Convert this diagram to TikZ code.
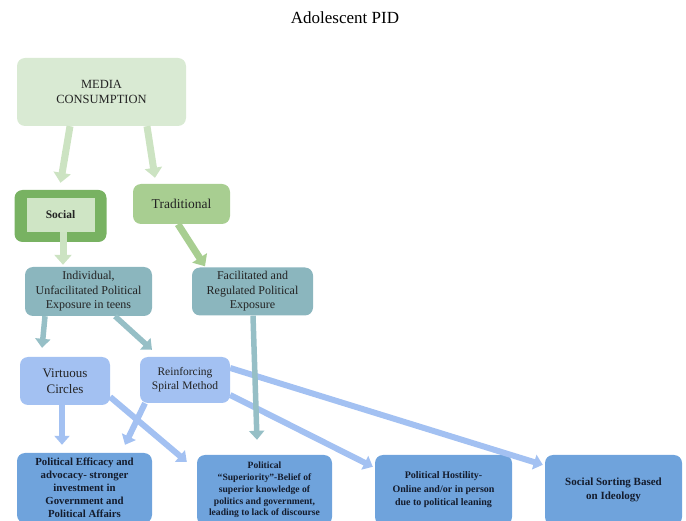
\documentclass[tikz,border=0pt]{standalone}
\usepackage{fontspec}
\setmainfont{Liberation Serif}
\usetikzlibrary{arrows.meta}
\definecolor{mediafill}{RGB}{217,234,211}
\definecolor{mediaarrow}{RGB}{204,227,194}
\definecolor{socialdark}{RGB}{120,178,98}
\definecolor{socialinner}{RGB}{207,229,197}
\definecolor{tradfill}{RGB}{168,206,145}
\definecolor{tealfill}{RGB}{139,182,190}
\definecolor{tealarrow}{RGB}{150,191,198}
\definecolor{lightblue}{RGB}{163,193,242}
\definecolor{darkblue}{RGB}{111,163,220}
\definecolor{txt}{RGB}{35,35,35}
\definecolor{btxt}{RGB}{20,28,45}
\tikzset{
  box/.style={rounded corners=8pt, align=center, inner sep=2pt, text=txt},
  bottombox/.style={box, fill=darkblue, minimum width=136pt, minimum height=70pt, text=btxt, font=\bfseries},
  greenarr/.style={draw=mediaarrow, line width=7pt, -{Triangle[width=17pt,length=10pt]}},
  tradarr/.style={draw=tradfill, line width=7pt, -{Triangle[width=17pt,length=10pt]}},
  tealarr/.style={draw=tealarrow, line width=5.5pt, -{Triangle[width=15pt,length=9pt]}},
  bluearr/.style={draw=lightblue, line width=6pt, -{Triangle[width=15pt,length=9pt]}},
}
\begin{document}
\begin{tikzpicture}[x=1pt,y=-1pt]
\useasboundingbox (0,0) rectangle (686,521);
\clip (0,0) rectangle (686,521);

\node[text=black, font=\fontsize{17}{20}\selectfont] (title) at (345,18) {Adolescent PID};

\node[box, fill=mediafill, minimum width=169pt, minimum height=68pt, font=\fontsize{12.5}{15}\selectfont] (media) at (101.5,92) {MEDIA\\CONSUMPTION};

\node[box, fill=socialdark, minimum width=92pt, minimum height=52pt] (social) at (60.5,216) {};
\node[fill=socialinner, minimum width=68pt, minimum height=34pt, inner sep=0pt, text=txt, font=\bfseries\fontsize{11.5}{14}\selectfont] (socialin) at (60.5,215) {Social};

\node[box, fill=tradfill, minimum width=97pt, minimum height=40pt, font=\fontsize{13.5}{16}\selectfont] (trad) at (181.5,204) {Traditional};

\node[box, fill=tealfill, minimum width=127pt, minimum height=49pt, font=\fontsize{12}{14.5}\selectfont] (indiv) at (88.5,291.5) {Individual,\\Unfacilitated Political\\Exposure in teens};
\node[box, fill=tealfill, minimum width=121pt, minimum height=48pt, font=\fontsize{12}{14.5}\selectfont] (facil) at (252.5,291.5) {Facilitated and\\Regulated Political\\Exposure};

\node[box, fill=lightblue, minimum width=90pt, minimum height=48pt, font=\fontsize{13}{16}\selectfont] (virt) at (65,381) {Virtuous\\Circles};
\node[box, fill=lightblue, minimum width=90pt, minimum height=46pt, font=\fontsize{11.5}{14}\selectfont] (reinf) at (185,380) {Reinforcing\\Spiral Method};

\node[bottombox, minimum width=135pt, font=\bfseries\fontsize{10.8}{12.9}\selectfont] (b1) at (84.5,488) {Political Efficacy and\\advocacy- stronger\\investment in\\Government and\\Political Affairs};
\node[bottombox, minimum width=135pt, font=\bfseries\fontsize{9.6}{11.8}\selectfont] (b2) at (264.5,490) {Political\\“Superiority”-Belief of\\superior knowledge of\\politics and government,\\leading to lack of discourse};
\node[bottombox, minimum width=137pt, font=\bfseries\fontsize{10}{13.5}\selectfont] (b3) at (443.5,490) {Political Hostility-\\Online and/or in person\\due to political leaning};
\node[bottombox, minimum width=137pt, font=\bfseries\fontsize{11}{14}\selectfont] (b4) at (613.5,490) {Social Sorting Based\\on Ideology};

% green arrows
\draw[greenarr] ([xshift=-31.5pt]media.south) -- ([yshift=7pt]social.north);
\draw[greenarr] ([xshift=45.5pt]media.south) -- ([xshift=-26.5pt,yshift=6pt]trad.north);
\draw[greenarr] ([xshift=2.5pt]socialin.south) -- ([xshift=-25.5pt,yshift=2pt]indiv.north);
\draw[tradarr] ([xshift=-3.5pt]trad.south) -- ([xshift=-47.5pt,yshift=1pt]facil.north);

% teal arrows
\draw[tealarr] ([xshift=-43.5pt]indiv.south) -- ([xshift=-23pt,yshift=9pt]virt.north);
\draw[tealarr] ([xshift=26.5pt]indiv.south) -- ([xshift=-33pt,yshift=7pt]reinf.north);

% blue arrows
\draw[bluearr] ([xshift=-3pt]virt.south) -- ([xshift=-22.5pt,yshift=8pt]b1.north);
\draw[bluearr] ([yshift=-16pt]virt.east) -- ([xshift=-10pt,yshift=-7pt]b2.north west);
\draw[bluearr] ([xshift=-40pt]reinf.south) -- ([xshift=40.5pt,yshift=8pt]b1.north);
\draw[bluearr] ([yshift=-15pt]reinf.east) -- ([xshift=-2pt,yshift=-12pt]b3.north west);
\draw[bluearr] ([yshift=12pt]reinf.east) -- ([xshift=-2pt,yshift=-10pt]b4.north west);

% teal long arrow on top
\draw[tealarr] ([xshift=0.5pt]facil.south) -- ([xshift=-7.5pt,yshift=15pt]b2.north);
\end{tikzpicture}
\end{document}
